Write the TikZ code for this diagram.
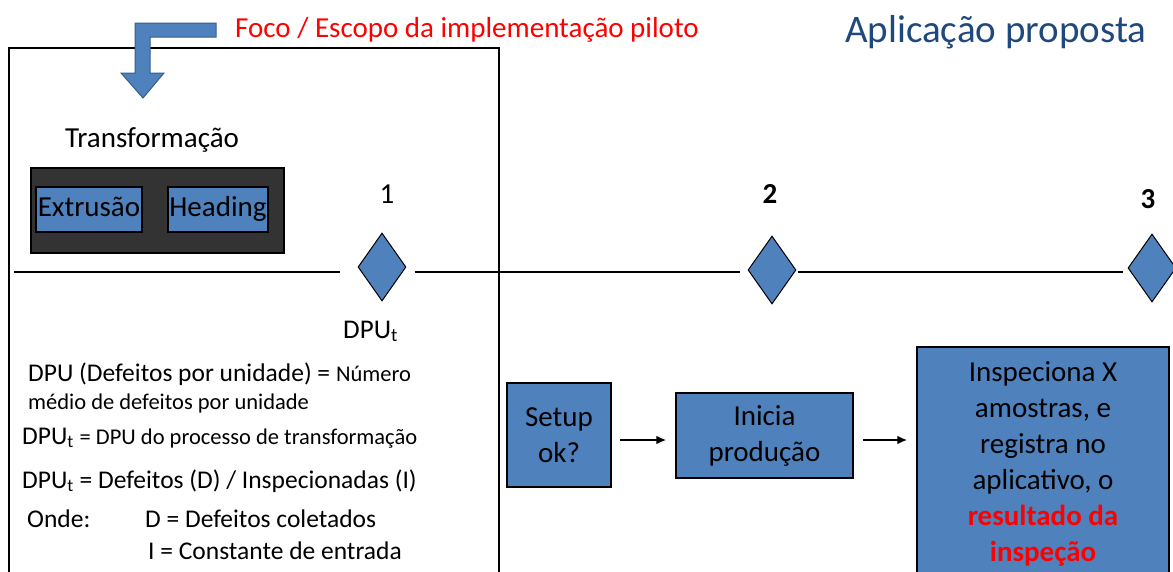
\documentclass[tikz,border=0pt]{standalone}
\usepackage{fontspec}
\setmainfont{Carlito}
\usepackage{xcolor}
\usepackage{tikz}
\usetikzlibrary{positioning}
\usetikzlibrary{arrows.meta,shapes.geometric}
\definecolor{boxblue}{HTML}{4F81BD}
\definecolor{titleblue}{HTML}{1F497D}
\definecolor{arrowedge}{HTML}{385D8A}
\definecolor{focored}{HTML}{FF0000}
\newcommand{\dpufont}{\fontsize{25.5}{30}\selectfont}
\newcommand{\notefont}{\fontsize{22.5}{27}\selectfont}
\tikzstyle{bluebox}=[rectangle,draw=black,fill=boxblue,line width=1.5pt,inner sep=0pt,align=center,font=\fontsize{29}{36}\selectfont]
\tikzstyle{milestone}=[diamond,draw=black,fill=boxblue,line width=1pt,inner sep=0pt,minimum width=48pt,minimum height=68pt]
\tikzstyle{flow} = [draw,line width=2pt,-{Latex[length=10pt,width=9pt]}]
\tikzstyle{timeline} = [draw,line width=2pt]
\tikzstyle{numlabel} = [anchor=base,inner sep=0pt,font=\fontsize{29}{36}\selectfont]
\tikzset{dputxt/.style={anchor=base west,inner sep=0pt,font=\dpufont}}

\begin{document}
\begin{tikzpicture}[x=1pt,y=-1pt]

 \useasboundingbox (0,0) rectangle (1173,571);
 \clip (0,0) rectangle (1173,571);

 %Titles
 \node[anchor=base west,inner sep=0pt,text=focored,font=\fontsize{29}{36}\selectfont] (foco) at (235,37) {Foco / Escopo da implementação piloto};
 \node[anchor=base west,inner sep=0pt,text=titleblue,font=\fontsize{39}{46}\selectfont] (titulo) at (845,42) {Aplicação proposta};

 %Escopo piloto
 \draw[line width=2pt] (9,590) -- (9,48) -- (499,48) -- (499,590);
 \draw[fill=boxblue,draw=arrowedge,line width=1pt] (216,23) -- (135,23) -- (135,73) -- (121,73) -- (143,98) -- (164,73) -- (150,73) -- (150,37) -- (216,37) -- cycle;

 \node[numlabel] (transf) at (152,147) {Transformação};
 \node[rectangle,draw=black,fill=black!80,line width=1.5pt,minimum width=253pt,minimum height=85pt] (trbox) at (157.5,210.5) {};
 \node[bluebox,text height=20pt,text depth=7pt,minimum width=106pt,minimum height=45pt] (extr) at (89,209.5) {Extrusão};
 \node[bluebox,text height=20pt,text depth=7pt,minimum width=100pt,minimum height=45pt] (head) at (218,209.5) {Heading};

 %Linha do tempo
 \foreach \x/\y/\name in {382/267/d1, 772/270/d2, 1152/268/d3}
        \node[milestone] (\name) at (\x,\y) {};

 \foreach \x/\y/\name/\lbl in {387/203/n1/1, 770/203/n2/{\bfseries 2}, 1148/208/n3/{\bfseries 3}}
        \node[numlabel] (\name) at (\x,\y) {\lbl};

 \coordinate (tl0) at (14,272);
 \draw[timeline,shorten >=18pt] (tl0) -- (tl0 -| d1.west);
 \draw[timeline,shorten <=8pt,shorten >=8pt] (tl0 -| d1.east) -- (tl0 -| d2.west);
 \draw[timeline,shorten <=1pt,shorten >=5pt] (tl0 -| d2.east) -- (tl0 -| d3.west);

 %DPU
 \node[dputxt,font=\fontsize{27}{32}\selectfont] (dput) at (343,338) {DPU\textsubscript{t}};
 \node[dputxt] (def1) at (28,381) {DPU (Defeitos por unidade) = {\notefont Número}};
 \node[dputxt,font=\notefont] (def2) at (28,409) {médio de defeitos por unidade};
 \node[dputxt] (def3) at (22,444) {DPU\textsubscript{t} {\notefont = DPU do processo de transformação}};
 \node[dputxt] (def4) at (22,488) {DPU\textsubscript{t} = Defeitos (D) / Inspecionadas (I)};
 \node[dputxt] (onde) at (27,527) {Onde:};
 \node[dputxt] (def5) at (145,527) {D = Defeitos coletados};
 \node[dputxt] (def6) at (148,559) {I = Constante de entrada};

 %Fluxo
 \node[bluebox,minimum width=104pt,minimum height=104pt] (setup) at (559,435) {Setup\\ok?};
 \node[bluebox,minimum width=177pt,minimum height=85pt] (inicia) at (764.5,435.5) {Inicia\\produção};
 \node[bluebox,minimum width=252pt,minimum height=234pt] (insp) at (1043,464) {Inspeciona X\\amostras, e\\registra no\\aplicativo, o\\\textcolor{focored}{\bfseries resultado da}\\\textcolor{focored}{\bfseries inspeção}};

 \draw[flow,shorten <=8pt,shorten >=9pt] ([yshift=-5pt]setup.east) -- ([yshift=-5pt]setup.east -| inicia.west);
 \draw[flow,shorten <=9pt,shorten >=9pt] ([yshift=-4.5pt]inicia.east) -- ([yshift=-4.5pt]inicia.east -| insp.west);

\end{tikzpicture}
\end{document}
